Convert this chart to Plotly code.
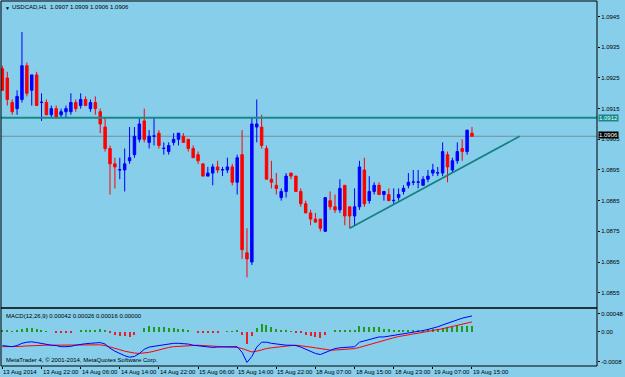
import plotly.graph_objects as go

# ---------------- data ----------------
bar_idx = list(range(97))

opens = [1.0928, 1.0925, 1.0917, 1.0915, 1.0918, 1.0929, 1.0921, 1.0926, 1.0917, 1.0917,
         1.0913, 1.0915, 1.0913, 1.0914, 1.0914, 1.0917, 1.0916, 1.0918, 1.0915, 1.0917,
         1.0914, 1.0909, 1.0902, 1.0897, 1.0895, 1.0895, 1.0898, 1.0900, 1.0905, 1.0911,
         1.0904, 1.0906, 1.0907, 1.0902, 1.0901, 1.0904, 1.0905, 1.0906, 1.0905, 1.0902,
         1.0900, 1.0897, 1.0893, 1.0894, 1.0896, 1.0895, 1.0895, 1.0896, 1.0891, 1.0900,
         1.0868, 1.0865, 1.0909, 1.0909, 1.0902, 1.0892, 1.0890, 1.0886, 1.0888, 1.0894,
         1.0893, 1.0888, 1.0884, 1.0881, 1.0879, 1.0879, 1.0875, 1.0885, 1.0883, 1.0882,
         1.0890, 1.0883, 1.0880, 1.0883, 1.0895, 1.0885, 1.0888, 1.0890, 1.0887, 1.0887,
         1.0885, 1.0886, 1.0888, 1.0890, 1.0891, 1.0891, 1.0890, 1.0892, 1.0894, 1.0894,
         1.0894, 1.0900, 1.0895, 1.0898, 1.0902, 1.0901, 1.0907]
highs = [1.0929, 1.0927, 1.0918, 1.0921, 1.0940, 1.0930, 1.0926, 1.0927, 1.0920, 1.0918,
         1.0916, 1.0916, 1.0915, 1.0916, 1.0920, 1.0918, 1.0920, 1.0919, 1.0918, 1.0919,
         1.0915, 1.0912, 1.0903, 1.0899, 1.0899, 1.0902, 1.0909, 1.0909, 1.0912, 1.0915,
         1.0908, 1.0912, 1.0908, 1.0904, 1.0904, 1.0907, 1.0907, 1.0907, 1.0905, 1.0903,
         1.0901, 1.0897, 1.0896, 1.0897, 1.0898, 1.0896, 1.0899, 1.0897, 1.0900, 1.0908,
         1.0876, 1.0912, 1.0918, 1.0913, 1.0903, 1.0898, 1.0894, 1.0889, 1.0894, 1.0894,
         1.0893, 1.0889, 1.0885, 1.0882, 1.0881, 1.0879, 1.0886, 1.0888, 1.0887, 1.0892,
         1.0890, 1.0883, 1.0889, 1.0898, 1.0899, 1.0893, 1.0891, 1.0891, 1.0888, 1.0889,
         1.0889, 1.0889, 1.0890, 1.0894, 1.0895, 1.0895, 1.0893, 1.0895, 1.0897, 1.0896,
         1.0904, 1.0901, 1.0899, 1.0904, 1.0905, 1.0908, 1.0909]
lows = [1.0921, 1.0916, 1.0913, 1.0913, 1.0917, 1.0919, 1.0916, 1.0916, 1.0911, 1.0913,
        1.0912, 1.0912, 1.0912, 1.0912, 1.0913, 1.0914, 1.0915, 1.0916, 1.0914, 1.0913,
        1.0907, 1.0901, 1.0887, 1.0889, 1.0892, 1.0888, 1.0897, 1.0899, 1.0904, 1.0904,
        1.0902, 1.0903, 1.0902, 1.0900, 1.0900, 1.0903, 1.0903, 1.0904, 1.0901, 1.0899,
        1.0897, 1.0893, 1.0893, 1.0890, 1.0894, 1.0893, 1.0894, 1.0890, 1.0887, 1.0866,
        1.0860, 1.0864, 1.0904, 1.0902, 1.0892, 1.0889, 1.0887, 1.0885, 1.0886, 1.0892,
        1.0888, 1.0883, 1.0881, 1.0877, 1.0878, 1.0875, 1.0875, 1.0882, 1.0881, 1.0881,
        1.0877, 1.0876, 1.0877, 1.0882, 1.0883, 1.0884, 1.0887, 1.0887, 1.0885, 1.0885,
        1.0884, 1.0885, 1.0887, 1.0889, 1.0890, 1.0889, 1.0890, 1.0891, 1.0893, 1.0893,
        1.0893, 1.0891, 1.0894, 1.0897, 1.0898, 1.0900, 1.0906]
closes = [1.0921, 1.0918, 1.0914, 1.0919, 1.0929, 1.0920, 1.0926, 1.0916, 1.09171, 1.0913,
          1.0915, 1.0912, 1.0914, 1.0915, 1.0917, 1.0915, 1.0918, 1.0916, 1.0917, 1.0915,
          1.0910, 1.0902, 1.0897, 1.0896, 1.08951, 1.0897, 1.0899, 1.0906, 1.0910, 1.0905,
          1.0906, 1.09061, 1.0903, 1.09021, 1.0903, 1.0905, 1.0907, 1.0904, 1.0902, 1.0899,
          1.0898, 1.0893, 1.0894, 1.0896, 1.0895, 1.08951, 1.0896, 1.0891, 1.0899, 1.0869,
          1.0866, 1.0910, 1.0910, 1.0903, 1.0892, 1.0891, 1.0889, 1.0888, 1.0893, 1.0893,
          1.0888, 1.0884, 1.0881, 1.0879, 1.0878, 1.0876, 1.0886, 1.0883, 1.0882, 1.0889,
          1.0880, 1.0880, 1.0883, 1.0896, 1.0884, 1.0888, 1.0890, 1.0887, 1.0888, 1.0885,
          1.08851, 1.0887, 1.0889, 1.0891, 1.08911, 1.08911, 1.0892, 1.0893, 1.0895, 1.08941,
          1.0901, 1.0896, 1.0898, 1.0901, 1.0901, 1.0908, 1.0906]

# MACD(12,26,9) readings, in units of 0.00001
macd_main = [-37, -38, -40, -37, -31, -28, -27, -29, -32, -35, -36, -37, -40, -40, -39, -36, -33, -32, -31, -29,
             -29, -33, -44, -52, -59, -64, -68, -66, -58, -47, -41, -39, -36, -33, -32, -31, -31, -32, -33, -36,
             -37, -40, -41, -42, -41, -41, -40, -41, -40, -55, -82, -66, -41, -28, -28, -31, -33, -36, -36, -36,
             -37, -41, -47, -53, -58, -61, -55, -49, -45, -43, -42, -42, -40, -28, -25, -21, -17, -14, -14, -12,
             -11, -9, -6, -4, -2, 1, 3, 6, 9, 13, 18, 23, 26, 32, 36, 39, 42]
macd_signal = [-40, -40, -41, -40, -39, -38, -37, -37, -36, -36, -36, -36, -36, -36, -36, -36, -35, -35, -34, -34,
               -35, -37, -40, -44, -48, -52, -55, -57, -58, -57, -55, -52, -48, -45, -42, -40, -39, -38, -37, -36,
               -36, -37, -38, -39, -40, -41, -41, -42, -42, -45, -50, -54, -52, -48, -45, -43, -41, -39, -38, -37,
               -36, -37, -39, -41, -43, -45, -47, -49, -49, -48, -47, -46, -45, -42, -38, -34, -30, -26, -22, -19,
               -16, -13, -10, -8, -6, -4, -2, 0, 2, 5, 8, 11, 14, 17, 20, 23, 26]

tick_idx = [0, 8, 16, 24, 32, 40, 48, 56, 64, 72, 80, 88, 96]
tick_text = ["13 Aug 2014", "13 Aug 22:00", "14 Aug 06:00", "14 Aug 14:00", "14 Aug 22:00",
             "15 Aug 06:00", "15 Aug 14:00", "15 Aug 22:00", "18 Aug 07:00", "18 Aug 15:00",
             "18 Aug 23:00", "19 Aug 07:00", "19 Aug 15:00"]
price_ticks = [1.0855, 1.0865, 1.0875, 1.0885, 1.0895, 1.0905, 1.0915, 1.0925, 1.0935, 1.0945]

resistance_level = 1.0912
bid_level = 1.0906
trend_x = [71, 105.75]
trend_y = [1.0876, 1.0906]

header = "USDCAD,H1  1.0907 1.0909 1.0906 1.0906"
macd_header = "MACD(12,26,9) 0.00042 0.00026 0.00016 0.00000"
copyright_text = "MetaTrader 4, © 2001-2014, MetaQuotes Software Corp."

# ---------------- figure ----------------
BG = "#87CEEB"
FONT = "Liberation Sans, Arial, sans-serif"
SPLIT = 0.1589
XR = [-0.285, 121.56]

scale = 1e-5
macd_v = [v * scale for v in macd_main]
sig_v = [v * scale for v in macd_signal]
hist_v = [m - s for m, s in zip(macd_v, sig_v)]
hist_col = ["#1E9B1E" if h >= 0 else "#E8202A" for h in hist_v]

fig = go.Figure()
fig.add_trace(go.Candlestick(
    x=bar_idx, open=opens, high=highs, low=lows, close=closes,
    increasing=dict(line=dict(color="#0000FF", width=1), fillcolor="#0000FF"),
    decreasing=dict(line=dict(color="#FF0000", width=1), fillcolor="#FF0000"),
    whiskerwidth=0, xaxis="x", yaxis="y", hoverinfo="skip", showlegend=False))

fig.add_trace(go.Scatter(x=trend_x, y=trend_y, mode="lines", xaxis="x", yaxis="y",
                         line=dict(color="#15807F", width=1.6), hoverinfo="skip", showlegend=False))

fig.add_trace(go.Bar(x=bar_idx, y=hist_v, xaxis="x2", yaxis="y2", width=0.22,
                     marker=dict(color=hist_col, line=dict(width=0)), hoverinfo="skip", showlegend=False))
fig.add_trace(go.Scatter(x=bar_idx, y=sig_v, mode="lines", xaxis="x2", yaxis="y2",
                         line=dict(color="#FF0000", width=1), hoverinfo="skip", showlegend=False))
fig.add_trace(go.Scatter(x=bar_idx, y=macd_v, mode="lines", xaxis="x2", yaxis="y2",
                         line=dict(color="#0000FF", width=1), hoverinfo="skip", showlegend=False))

shapes = [
    dict(type="line", xref="paper", yref="y", x0=0, x1=1, y0=bid_level, y1=bid_level,
         line=dict(color="#6F8FA3", width=1), layer="below"),
    dict(type="line", xref="paper", yref="y", x0=0, x1=1, y0=resistance_level, y1=resistance_level,
         line=dict(color="#17898A", width=2)),
    dict(type="rect", xref="paper", yref="paper", x0=0, x1=1, y0=SPLIT, y1=1,
         line=dict(color="#000000", width=1)),
    dict(type="rect", xref="paper", yref="paper", x0=0, x1=1, y0=0, y1=SPLIT,
         line=dict(color="#000000", width=1)),
]

annotations = []
for i, t in zip(tick_idx, tick_text):
    annotations.append(dict(x=i, xref="x2", y=0, yref="paper", text=t, showarrow=False,
                            xanchor="left", yanchor="top", xshift=-1, yshift=-1,
                            font=dict(family=FONT, size=6, color="#000000")))
annotations += [
    dict(x=0, xref="paper", y=1, yref="paper", text="▼", showarrow=False, xanchor="left",
         yanchor="top", xshift=2, yshift=-2, font=dict(family=FONT, size=5, color="#000000")),
    dict(x=0, xref="paper", y=1, yref="paper", text=header, showarrow=False, xanchor="left",
         yanchor="top", xshift=9, yshift=-1, font=dict(family=FONT, size=6, color="#000000")),
    dict(x=0, xref="paper", y=SPLIT, yref="paper", text=macd_header, showarrow=False, xanchor="left",
         yanchor="top", xshift=3, yshift=-3, font=dict(family=FONT, size=6, color="#000000")),
    dict(x=0, xref="paper", y=0, yref="paper", text=copyright_text, showarrow=False, xanchor="left",
         yanchor="bottom", xshift=3, yshift=1, font=dict(family=FONT, size=6, color="#000000")),
    dict(x=1, xref="paper", y=resistance_level, yref="y", text="%.4f" % resistance_level, showarrow=False,
         xanchor="left", yanchor="middle", xshift=1, bgcolor="#17898A", borderpad=0,
         font=dict(family=FONT, size=6, color="#E8FFFF")),
    dict(x=1, xref="paper", y=bid_level, yref="y", text="%.4f" % bid_level, showarrow=False,
         xanchor="left", yanchor="bottom", xshift=1, yshift=-3, bgcolor="#000000", borderpad=0,
         font=dict(family=FONT, size=6, color="#FFFFFF")),
]

axis_font = dict(family=FONT, size=6, color="#000000")
fig.update_layout(
    width=625, height=377, autosize=False,
    margin=dict(l=1, r=25, t=1, b=11, pad=0),
    paper_bgcolor=BG, plot_bgcolor=BG,
    showlegend=False, hovermode=False, bargap=0,
    boxgap=0.5, boxgroupgap=0,
    xaxis=dict(domain=[0, 1], anchor="y", range=XR, showticklabels=False, showgrid=False,
               zeroline=False, ticks="", rangeslider=dict(visible=False), fixedrange=True),
    xaxis2=dict(domain=[0, 1], anchor="y2", range=XR, matches="x", showticklabels=False,
                showgrid=False, zeroline=False, tickmode="array", tickvals=tick_idx,
                ticks="outside", ticklen=2, tickcolor="#000000", tickwidth=1),
    yaxis=dict(domain=[SPLIT, 1], anchor="x", side="right", range=[1.0850, 1.09501],
               tickmode="array", tickvals=price_ticks, ticktext=["%.4f" % v for v in price_ticks],
               ticks="outside", ticklen=2, tickcolor="#000000", tickfont=axis_font,
               showgrid=False, zeroline=False),
    yaxis2=dict(domain=[0, SPLIT], anchor="x2", side="right", range=[-91.5e-5, 63.2e-5],
                tickmode="array", tickvals=[48e-5, 0, -80e-5], ticktext=["0.00048", "0.00", "-0.0008"],
                ticks="outside", ticklen=2, tickcolor="#000000", tickfont=axis_font,
                showgrid=False, zeroline=False),
    shapes=shapes, annotations=annotations,
)

fig.write_html("out.html")
